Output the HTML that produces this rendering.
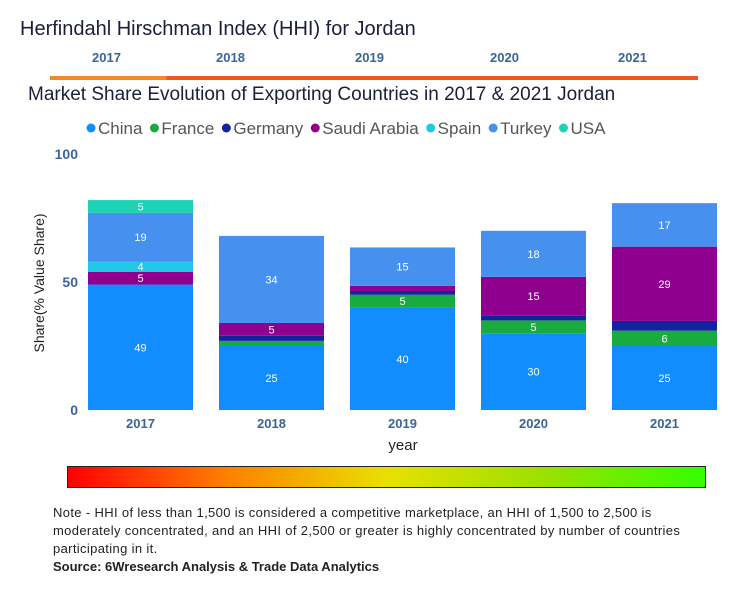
<!DOCTYPE html>
<html><head><meta charset="utf-8"><style>
body{margin:0;width:744px;height:600px;background:#fff;font-family:"Liberation Sans",sans-serif;position:relative;overflow:hidden}
.abs{position:absolute}
</style></head><body>
<div class="abs" style="left:20px;top:18px;font-size:20px;color:#1a1f3a">Herfindahl Hirschman Index (HHI) for Jordan</div>
<div class="abs" style="left:92px;top:50px;font-size:13px;font-weight:bold;color:#3c6496">2017</div>
<div class="abs" style="left:216px;top:50px;font-size:13px;font-weight:bold;color:#3c6496">2018</div>
<div class="abs" style="left:355px;top:50px;font-size:13px;font-weight:bold;color:#3c6496">2019</div>
<div class="abs" style="left:490px;top:50px;font-size:13px;font-weight:bold;color:#3c6496">2020</div>
<div class="abs" style="left:618px;top:50px;font-size:13px;font-weight:bold;color:#3c6496">2021</div>
<div class="abs" style="left:50px;top:76px;width:648px;height:4px;background:linear-gradient(90deg,#f08a24 0 18%,#ee5a1c 18% 100%)"></div>
<div class="abs" style="left:28px;top:84px;font-size:19px;color:#1a1f3a">Market Share Evolution of Exporting Countries in 2017 &amp; 2021 Jordan</div>
<svg class="abs" style="left:0;top:0" width="744" height="600" id="chart"></svg>
<div class="abs" style="left:67px;top:466px;width:637px;height:20px;border:1px solid #222;background:linear-gradient(90deg,#ff0000,#ff8000 25%,#e8e000 50%,#9be000 75%,#33ff00)"></div>
<div class="abs" style="left:53px;top:504px;width:668px;font-size:13px;letter-spacing:0.35px;line-height:18px;color:#222">Note - HHI of less than 1,500 is considered a competitive marketplace, an HHI of 1,500 to 2,500 is moderately concentrated, and an HHI of 2,500 or greater is highly concentrated by number of countries participating in it.<br><b style="letter-spacing:0">Source: 6Wresearch Analysis &amp; Trade Data Analytics</b></div>
<script>
const years=["2017","2018","2019","2020","2021"];
const series=["China","France","Germany","Saudi Arabia","Spain","Turkey","USA"];
const china=[49,25,40,30,25];
const france=[0,2,5,5,6];
const germany=[0,2,1.5,2,3.8];
const saudi=[5,5,2,15,29];
const spain=[4,0,0,0,0];
const turkey=[19,34,15,18,17];
const usa=[5,0,0,0,0];
const yTicks=[0,50,100];
const values=[china,france,germany,saudi,spain,turkey,usa];
const colors=["#118DFF","#1AAB40","#12239E","#8F008F","#22C6E6","#4690F0","#1ED3B3"];
const svg=document.getElementById('chart');
const NS="http://www.w3.org/2000/svg";
const y0=410,pxu=2.56,x0=88,step=131,bw=105;
const yS=v=>y0-v*pxu;
const xS=i=>x0+i*step;
function mk(t,a){const e=document.createElementNS(NS,t);for(const k in a)e.setAttribute(k,a[k]);svg.appendChild(e);return e;}
let lx=86;
series.forEach((s,i)=>{
 const c=mk('circle',{cx:lx+5,cy:128,r:4.5,fill:colors[i]});
 
 
 const t=mk('text',{x:lx+12,y:134,'font-size':17,fill:'#555','font-family':'Liberation Sans, sans-serif'});
 t.textContent=s;
 
 
 lx+=12+t.getComputedTextLength()+7;
});
yTicks.forEach(v=>{
 const t=mk('text',{x:78,y:yS(v)+5,'font-size':14,'font-weight':'bold',fill:'#3c6496','text-anchor':'end'});
 t.textContent=v;
 
 
});
const yt=mk('text',{transform:'translate(44,283) rotate(-90)','font-size':14,fill:'#222','text-anchor':'middle'});
yt.textContent='Share(% Value Share)';


years.forEach((yr,i)=>{
 let cum=0;
 values.forEach((arr,s)=>{
  const v=arr[i]; if(!v) return;
  const r=mk('rect',{x:xS(i),y:yS(cum+v),width:bw,height:v*pxu,fill:colors[s]});
  
  
  if(v>=4){
   const t=mk('text',{x:xS(i)+bw/2,y:yS(cum+v/2)+4,'font-size':11,fill:'#fff','text-anchor':'middle'});
   t.textContent=Math.round(v);
   
   
  }
  cum+=v;
 });
 const t=mk('text',{x:xS(i)+bw/2,y:428,'font-size':13,'font-weight':'bold',fill:'#3c6496','text-anchor':'middle'});
 t.textContent=yr;
 
 
});
const xt=mk('text',{x:403,y:450,'font-size':15,fill:'#222','text-anchor':'middle'});
xt.textContent='year';


</script>
</body></html>
